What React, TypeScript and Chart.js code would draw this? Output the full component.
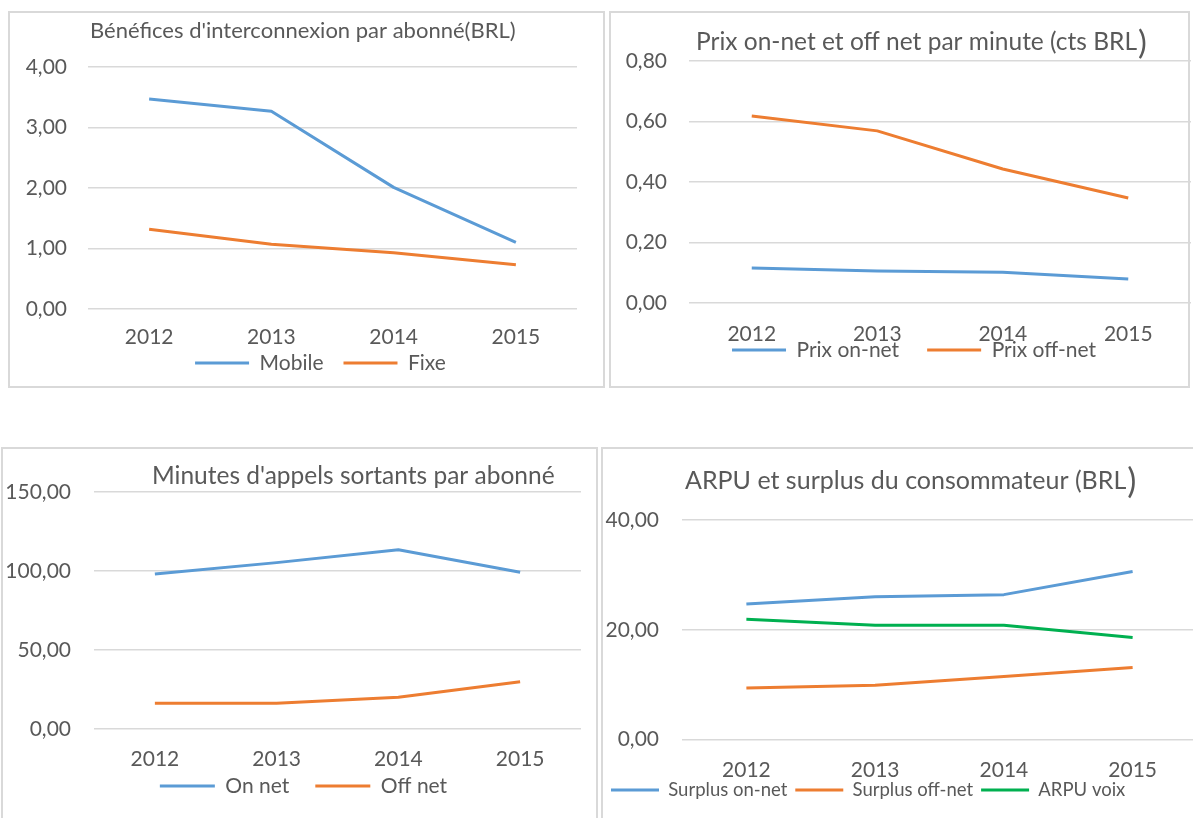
import React, { useEffect, useRef } from 'react';
import { Chart, registerables } from 'chart.js';

Chart.register(...registerables);

// ---------- DATA ----------
const years = ['2012', '2013', '2014', '2015'];

const benefMobile = [3.47, 3.27, 2.01, 1.1];
const benefFixe = [1.32, 1.07, 0.93, 0.73];

const prixOnNet = [0.116, 0.106, 0.102, 0.079];
const prixOffNet = [0.618, 0.569, 0.443, 0.347];

const minutesOnNet = [98.1, 105.3, 113.5, 99.2];
const minutesOffNet = [16.3, 16.3, 20.1, 29.9];

const surplusOnNet = [24.7, 26.0, 26.4, 30.6];
const surplusOffNet = [9.4, 9.9, 11.5, 13.1];
const arpuVoix = [21.9, 20.8, 20.8, 18.6];

const title1 = "Bénéfices d'interconnexion par abonné(BRL)";
const title2 = 'Prix on-net et off net par minute (cts BRL';
const title3 = "Minutes d'appels sortants par abonné";
const title4 = 'ARPU et surplus du consommateur (BRL';

// ---------- STYLE ----------
const FONT = 'Lato, "Open Sans", sans-serif';
const TEXT = '#595959';
const GRID = '#d9d9d9';
const BLUE = '#5B9BD5';
const ORANGE = '#ED7D31';
const GREEN = '#00B050';

const fmt = (v: number | string) => Number(v).toFixed(2).replace('.', ',');

const boxTitlePlugin = {
  id: 'boxTitle',
  afterDraw(chart: any, _args: any, opts: any) {
    if (!opts || !opts.text) return;
    const ctx = chart.ctx;
    ctx.save();
    ctx.fillStyle = TEXT;
    ctx.textBaseline = 'middle';
    ctx.textAlign = 'left';
    ctx.font = `${opts.size}px ${FONT}`;
    ctx.fillText(opts.text, opts.x, opts.y);
    if (opts.paren) {
      const w = ctx.measureText(opts.text).width;
      ctx.font = `${Math.round(opts.size * 1.35)}px ${FONT}`;
      ctx.fillText(')', opts.x + w + 1, opts.y + 1);
    }
    ctx.restore();
  },
};

// moves the built-in legend so its text row sits at (tx, ty)
const legendPlacePlugin = {
  id: 'legendPlace',
  afterLayout(chart: any, _args: any, opts: any) {
    const lg = chart.legend;
    if (!lg || !opts) return;
    const lab = lg.options.labels;
    const p = lab.padding;
    const f = lab.font && lab.font.size ? lab.font.size : 12;
    const dy = opts.ty - (lg.top + p + f / 2);
    const dx =
      lg.options.align === 'start'
        ? opts.tx - (lg.left + p)
        : opts.tx - (lg.left + lg.right) / 2;
    lg.left += dx;
    lg.right += dx;
    lg.top += dy;
    lg.bottom += dy;
  },
};

type Series = { label: string; data: number[]; color: string };
type Spec = {
  left: number;
  top: number;
  width: number;
  height: number;
  title: string;
  titleX: number;
  titleY: number;
  titleSize: number;
  paren: boolean;
  yMax: number;
  yStep: number;
  yTickPad: number;
  yWidth: number;
  xHeight: number;
  xTickPad: number;
  padLeft: number;
  padRight: number;
  padTop: number;
  legendPad: number;
  legendBox: number;
  legendFont: number;
  legendAlign: 'start' | 'center';
  legendX: number;
  legendY: number;
  series: Series[];
};

function LineBox({ spec }: { spec: Spec }) {
  const ref = useRef<HTMLCanvasElement | null>(null);
  useEffect(() => {
    if (!ref.current) return;
    const chart = new Chart(ref.current, {
      type: 'line',
      data: {
        labels: years,
        datasets: spec.series.map((s) => ({
          label: s.label,
          data: s.data,
          borderColor: s.color,
          backgroundColor: s.color,
          borderWidth: 3,
          pointRadius: 0,
          tension: 0,
          borderJoinStyle: 'round',
          fill: false,
        })),
      },
      options: {
        responsive: false,
        animation: false,
        devicePixelRatio: 1,
        layout: {
          padding: { left: spec.padLeft, right: spec.padRight, top: spec.padTop, bottom: 0 },
        },
        scales: {
          x: {
            offset: true,
            grid: { display: false, drawTicks: false },
            border: { display: false },
            ticks: {
              color: TEXT,
              font: { family: FONT, size: 21 },
              padding: spec.xTickPad,
              maxRotation: 0,
              autoSkip: false,
            },
            afterFit: (scale: any) => {
              scale.height = spec.xHeight;
            },
          },
          y: {
            min: 0,
            max: spec.yMax,
            grid: { color: GRID, lineWidth: 1.5, drawTicks: false },
            border: { display: false },
            ticks: {
              stepSize: spec.yStep,
              color: TEXT,
              font: { family: FONT, size: 21 },
              padding: spec.yTickPad,
              callback: (v: any) => fmt(v),
            },
            afterFit: (scale: any) => {
              scale.width = spec.yWidth;
            },
          },
        },
        plugins: {
          legend: {
            position: 'bottom',
            align: spec.legendAlign,
            labels: {
              usePointStyle: true,
              pointStyle: 'line',
              pointStyleWidth: spec.legendBox,
              padding: spec.legendPad,
              color: TEXT,
              font: { family: FONT, size: spec.legendFont },
            },
          },
          tooltip: { enabled: false },
          boxTitle: {
            text: spec.title,
            x: spec.titleX,
            y: spec.titleY,
            size: spec.titleSize,
            paren: spec.paren,
          },
          legendPlace: { tx: spec.legendX, ty: spec.legendY },
        } as any,
      },
      plugins: [boxTitlePlugin, legendPlacePlugin],
    } as any);
    return () => chart.destroy();
  }, [spec]);
  return (
    <canvas
      ref={ref}
      width={spec.width}
      height={spec.height}
      style={{ position: 'absolute', left: spec.left, top: spec.top, width: spec.width, height: spec.height }}
    />
  );
}

const specs: Spec[] = [
  {
    left: 8, top: 11, width: 597, height: 393,
    title: title1, titleX: 82, titleY: 20, titleSize: 22, paren: false,
    yMax: 4, yStep: 1, yTickPad: 21, yWidth: 72, xHeight: 44, xTickPad: 16,
    padLeft: 8, padRight: 28, padTop: 56,
    legendPad: 20, legendBox: 54, legendFont: 21, legendAlign: 'center', legendX: 312.5, legendY: 352,
    series: [
      { label: 'Mobile', data: benefMobile, color: BLUE },
      { label: 'Fixe', data: benefFixe, color: ORANGE },
    ],
  },
  {
    left: 609, top: 11, width: 584, height: 398,
    title: title2, titleX: 87, titleY: 31, titleSize: 24.5, paren: true,
    yMax: 0.8, yStep: 0.2, yTickPad: 22, yWidth: 72, xHeight: 47, xTickPad: 19,
    padLeft: 8, padRight: 2, padTop: 50,
    legendPad: 28, legendBox: 54, legendFont: 21, legendAlign: 'center', legendX: 305, legendY: 339,
    series: [
      { label: 'Prix on-net', data: prixOnNet, color: BLUE },
      { label: 'Prix off-net', data: prixOffNet, color: ORANGE },
    ],
  },
  {
    left: 1, top: 447, width: 597, height: 385,
    title: title3, titleX: 151, titleY: 29, titleSize: 24.5, paren: false,
    yMax: 150, yStep: 50, yTickPad: 23, yWidth: 90, xHeight: 46, xTickPad: 18,
    padLeft: 3, padRight: 17, padTop: 45,
    legendPad: 26, legendBox: 55, legendFont: 21, legendAlign: 'center', legendX: 302.5, legendY: 339,
    series: [
      { label: 'On net', data: minutesOnNet, color: BLUE },
      { label: 'Off net', data: minutesOffNet, color: ORANGE },
    ],
  },
  {
    left: 601, top: 447, width: 600, height: 375,
    title: title4, titleX: 84, titleY: 34, titleSize: 25, paren: true,
    yMax: 40, yStep: 20, yTickPad: 23, yWidth: 78, xHeight: 46, xTickPad: 18,
    padLeft: 3, padRight: 4, padTop: 73,
    legendPad: 8, legendBox: 48, legendFont: 18.5, legendAlign: 'start', legendX: 10, legendY: 343,
    series: [
      { label: 'Surplus on-net', data: surplusOnNet, color: BLUE },
      { label: 'Surplus off-net', data: surplusOffNet, color: ORANGE },
      { label: 'ARPU voix', data: arpuVoix, color: GREEN },
    ],
  },
];

const frames = [
  { left: 8, top: 11, width: 597, height: 377 },
  { left: 609, top: 11, width: 581, height: 377 },
  { left: 1, top: 447, width: 597, height: 390 },
  { left: 601, top: 447, width: 620, height: 390 },
];

export default function App() {
  return (
    <div
      style={{
        position: 'fixed',
        left: 0,
        top: 0,
        width: 1193,
        height: 818,
        overflow: 'hidden',
        background: '#ffffff',
      }}
    >
      {frames.map((f, i) => (
        <div
          key={'f' + i}
          style={{
            position: 'absolute',
            left: f.left,
            top: f.top,
            width: f.width,
            height: f.height,
            border: '2px solid #d9d9d9',
            boxSizing: 'border-box',
          }}
        />
      ))}
      {specs.map((s, i) => (
        <LineBox key={'c' + i} spec={s} />
      ))}
    </div>
  );
}
